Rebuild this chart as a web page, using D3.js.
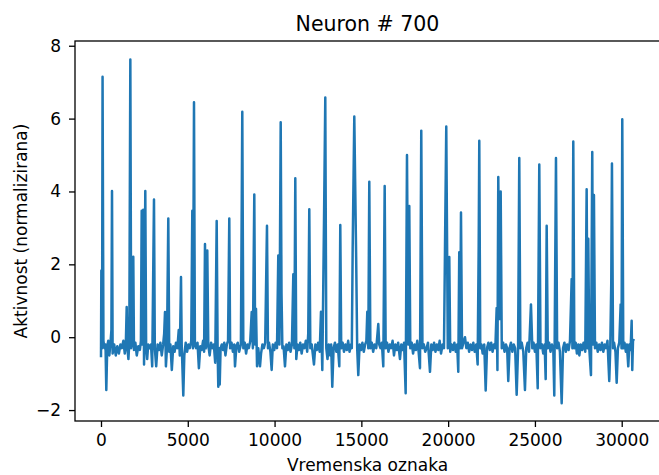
<!DOCTYPE html>
<html>
<head>
<meta charset="utf-8">
<script src="https://cdn.jsdelivr.net/npm/d3@7"></script>
<style>
  body { margin: 0; background: #fff; }
  text { font-family: "DejaVu Sans", sans-serif; fill: #000; }
</style>
</head>
<body>
<div id="root"></div>
<script>
const title = "Neuron # 700";
const xLabel = "Vremenska oznaka";
const yLabel = "Aktivnost (normalizirana)";

const xTicks = [0, 5000, 10000, 15000, 20000, 25000, 30000];
const yTicks = [-2, 0, 2, 4, 6, 8];

// [timestamp, activity]
const trace = [
  [0,-0.55],[20,1.83],[60,-0.3],[90,7.15],[140,-0.1],[200,-0.3],[260,-0.2],[305,-1.45],[360,-0.25],[420,-0.1],
  [480,-0.5],[540,-0.2],[600,0.2],[634,4.01],[670,-0.45],[760,-0.2],[850,-0.5],[940,-0.25],[1030,-0.45],[1120,-0.2],
  [1200,-0.3],[1290,-0.1],[1370,-0.45],[1430,-0.2],[1480,0.83],[1520,-0.3],[1580,-0.6],[1630,-0.15],[1690,7.62],[1740,-0.3],
  [1800,-0.1],[1860,2.21],[1900,-0.35],[1980,-0.15],[2060,-0.5],[2150,-0.25],[2240,-0.35],[2300,-0.1],[2345,3.47],[2380,-0.2],
  [2437,3.5],[2480,-0.75],[2552,4.01],[2600,-0.3],[2660,-0.6],[2720,-0.2],[2800,-0.3],[2880,-0.2],[2950,-0.8],[3053,3.78],
  [3100,-0.3],[3180,-0.8],[3260,-0.2],[3340,-0.35],[3420,-0.15],[3500,-0.5],[3580,-0.2],[3640,0.1],[3687,0.69],[3740,-0.8],
  [3800,-0.3],[3877,3.26],[3930,-0.4],[4000,-0.2],[4080,-0.9],[4160,-0.25],[4240,-0.4],[4320,-0.15],[4400,-0.3],[4480,0.2],
  [4540,-0.5],[4609,1.65],[4650,-0.2],[4741,-1.6],[4800,-0.5],[4880,-0.15],[4960,-0.4],[5040,-0.2],[5120,-0.3],[5200,-0.1],
  [5260,3.47],[5300,-0.3],[5358,6.45],[5410,-0.2],[5480,-0.3],[5560,-0.15],[5640,-0.85],[5720,-0.25],[5800,-0.35],[5880,-0.1],
  [5940,-0.4],[5991,2.56],[6050,-0.3],[6124,2.38],[6180,-0.2],[6260,-0.5],[6340,-0.15],[6420,-0.3],[6500,-0.2],[6580,-0.7],
  [6665,3.19],[6720,-0.4],[6758,-1.36],[6800,-0.3],[6840,-1.3],[6890,-0.3],[6960,-0.2],[7030,-0.35],[7100,-0.15],[7170,-0.5],
  [7250,-0.2],[7320,-0.1],[7391,3.26],[7440,-0.3],[7520,-0.15],[7600,-0.4],[7680,-0.2],[7720,-0.8],[7800,-0.25],[7880,-0.15],
  [7960,-0.4],[8060,-0.2],[8140,6.19],[8200,-0.3],[8280,-0.15],[8360,-0.45],[8440,-0.2],[8520,-0.3],[8600,-0.1],[8682,0.69],
  [8750,-0.3],[8832,3.92],[8880,-0.2],[8930,0.78],[8990,-0.8],[9060,-0.3],[9160,-0.8],[9220,-0.45],[9300,-0.2],[9380,-0.3],
  [9460,-0.15],[9563,3.06],[9620,-0.3],[9680,-0.15],[9760,-0.4],[9832,-0.9],[9900,-0.2],[9980,-0.35],[10060,-0.15],[10140,-0.3],
  [10214,2.24],[10280,-0.2],[10353,5.9],[10400,1.2],[10450,-0.3],[10520,-0.25],[10600,-0.8],[10680,-0.2],[10760,-0.35],[10840,-0.15],
  [10920,-0.4],[11000,-0.2],[11080,1.73],[11140,-0.3],[11194,4.36],[11250,-0.6],[11320,-0.2],[11400,-0.35],[11480,-0.15],[11560,-0.45],
  [11640,-0.2],[11720,-0.3],[11800,-0.1],[11880,-0.4],[11940,0.1],[12000,3.51],[12060,-0.3],[12140,-0.2],[12271,-0.75],[12350,-0.2],
  [12430,-0.35],[12510,-0.15],[12600,-0.4],[12674,0.7],[12750,-0.9],[12850,3.26],[12922,6.58],[12980,-0.3],[13050,-0.6],[13120,-0.2],
  [13200,-0.5],[13260,-0.2],[13325,-1.36],[13400,-0.3],[13480,-0.15],[13560,-0.4],[13640,-0.2],[13730,-0.8],[13786,3.08],[13840,-0.3],
  [13920,-0.15],[14000,-0.4],[14080,-0.2],[14160,-0.35],[14240,-0.1],[14320,-0.4],[14400,-0.2],[14450,-0.3],[14500,2.43],[14593,6.06],
  [14700,2.2],[14760,-0.3],[14823,-1.04],[14900,-0.2],[14980,-0.35],[15060,-0.15],[15140,-0.4],[15220,-0.2],[15290,-0.1],[15342,0.7],
  [15400,-0.3],[15457,4.27],[15520,-0.3],[15600,-0.15],[15680,-0.4],[15760,-0.2],[15860,-0.3],[15930,0.1],[15975,0.36],[16030,-0.2],
  [16100,-0.3],[16180,-0.15],[16264,-0.8],[16344,4.15],[16400,-0.3],[16480,-0.15],[16560,-0.4],[16640,-0.2],[16720,-0.3],[16800,-0.1],
  [16880,-0.5],[16960,-0.2],[17040,-0.35],[17120,-0.15],[17225,-0.6],[17300,-0.2],[17380,-0.35],[17460,-0.15],[17553,-1.54],[17629,5.0],
  [17700,-0.2],[17761,3.6],[17820,-0.3],[17900,-0.15],[17980,-0.45],[18060,-0.2],[18140,-0.35],[18220,-0.1],[18300,-0.4],[18378,-0.85],
  [18452,5.67],[18520,-0.3],[18600,-0.2],[18680,-0.4],[18760,-0.3],[18840,-0.15],[18954,-0.95],[19030,-0.2],[19110,-0.35],[19190,-0.15],
  [19270,-0.4],[19350,-0.2],[19430,-0.35],[19510,-0.1],[19590,-0.45],[19680,-0.2],[19760,-0.3],[19818,2.4],[19892,5.78],[19980,-0.3],
  [20066,2.2],[20120,-0.4],[20200,-0.2],[20280,-0.35],[20360,-0.15],[20440,-0.4],[20520,-0.2],[20584,-0.95],[20640,2.33],[20690,-0.3],
  [20740,3.42],[20800,-0.3],[20880,-0.15],[20970,0.0],[21050,-0.3],[21130,-0.15],[21210,-0.4],[21290,-0.2],[21370,-0.35],[21450,-0.15],
  [21530,-0.4],[21620,-0.2],[21700,-0.75],[21760,2.5],[21794,5.39],[21850,-0.3],[21920,-0.2],[21990,-0.45],[22080,-0.2],[22163,-1.46],
  [22240,-0.3],[22320,-0.15],[22400,-0.35],[22480,-0.15],[22560,-0.4],[22640,-0.2],[22720,-0.3],[22796,0.8],[22840,-0.9],[22889,4.4],
  [22960,0.5],[23027,4.0],[23090,-0.3],[23170,-0.15],[23250,-0.4],[23330,-0.2],[23400,-0.3],[23464,-1.2],[23540,-0.3],[23620,-0.15],
  [23700,-0.4],[23780,-0.2],[23860,-0.3],[23948,-1.58],[24030,-0.3],[24098,4.92],[24160,-0.3],[24240,-0.15],[24330,-0.4],[24426,-1.45],
  [24500,-0.3],[24580,-0.15],[24660,-0.4],[24772,0.9],[24850,-0.3],[24920,-0.15],[25000,-0.4],[25080,-0.2],[25160,-1.4],[25251,4.74],
  [25320,-0.3],[25400,-0.2],[25480,-0.45],[25560,-0.2],[25620,-1.15],[25677,3.06],[25740,-0.3],[25820,-0.15],[25900,-0.4],[25980,-0.2],
  [26060,-0.35],[26115,-1.6],[26213,4.92],[26280,-0.3],[26360,-0.15],[26440,-0.4],[26541,-1.81],[26620,-0.3],[26700,-0.15],[26780,-0.4],
  [26860,-0.2],[26940,-0.35],[27020,-0.1],[27117,1.6],[27160,-0.3],[27210,5.37],[27270,-0.3],[27350,-0.15],[27420,-0.45],[27500,-0.2],
  [27560,-0.5],[27640,-0.2],[27720,-0.35],[27800,-0.15],[27900,-0.4],[27980,4.06],[28030,-0.3],[28074,2.7],[28130,-0.3],[28229,-1.04],
  [28303,5.08],[28350,-0.2],[28400,3.9],[28460,-0.3],[28540,-0.15],[28620,-0.4],[28700,-0.2],[28780,-0.35],[28860,-0.15],[28940,-0.4],
  [29020,-0.2],[29100,-0.3],[29180,-0.1],[29283,-1.2],[29340,-0.3],[29398,1.5],[29438,4.77],[29500,-0.3],[29560,-0.15],[29640,-0.4],
  [29710,-1.25],[29780,-0.3],[29860,-0.15],[29940,0.9],[29990,-0.3],[30032,5.98],[30090,-0.3],[30160,-0.15],[30240,-0.4],[30300,-0.2],
  [30378,-0.8],[30440,-0.2],[30510,-0.35],[30573,0.45],[30608,-0.9],[30650,-0.1],[30707,-0.05]
];

const outerWidth = 659;
const outerHeight = 475;

// plot box; right spine sits just past the picture edge
const plot = { left: 75, right: 660, top: 41, bottom: 421 };

const x = d3.scaleLinear().domain([-1498, 32206]).range([plot.left, plot.right]);
const y = d3.scaleLinear().domain([-2.30, 8.13]).range([plot.bottom, plot.top]);

const svg = d3.select("#root")
  .append("svg")
  .attr("width", outerWidth)
  .attr("height", outerHeight)
  .style("display", "block");

svg.append("rect")
  .attr("width", outerWidth)
  .attr("height", outerHeight)
  .attr("fill", "#fff");

const line = d3.line()
  .x(d => x(d[0]))
  .y(d => y(d[1]));

svg.append("path")
  .datum(trace)
  .attr("fill", "none")
  .attr("stroke", "#1f77b4")
  .attr("stroke-width", 2.5)
  .attr("stroke-linejoin", "round")
  .attr("d", line);

const minus = d => (d < 0 ? "\u2212" + Math.abs(d) : String(d));

const xAxis = svg.append("g")
  .attr("transform", `translate(0,${plot.bottom})`)
  .call(d3.axisBottom(x).tickValues(xTicks).tickFormat(d3.format("d"))
    .tickSize(6).tickSizeOuter(0).tickPadding(7));

const yAxis = svg.append("g")
  .attr("transform", `translate(${plot.left},0)`)
  .call(d3.axisLeft(y).tickValues(yTicks).tickFormat(minus)
    .tickSize(6).tickSizeOuter(0).tickPadding(8));

[xAxis, yAxis].forEach(g => {
  g.select(".domain").remove();
  g.selectAll(".tick line").attr("stroke", "#000").attr("stroke-width", 1.3);
  g.selectAll(".tick text")
    .style("font-family", "'DejaVu Sans', sans-serif")
    .style("font-size", "17px")
    .attr("fill", "#000");
});

// frame
svg.append("rect")
  .attr("x", plot.left)
  .attr("y", plot.top)
  .attr("width", plot.right - plot.left)
  .attr("height", plot.bottom - plot.top)
  .attr("fill", "none")
  .attr("stroke", "#000")
  .attr("stroke-width", 1.3);

const midX = (plot.left + plot.right) / 2;

svg.append("text")
  .attr("x", midX)
  .attr("y", 31)
  .attr("text-anchor", "middle")
  .style("font-size", "20.5px")
  .text(title);

svg.append("text")
  .attr("x", midX)
  .attr("y", 471)
  .attr("text-anchor", "middle")
  .style("font-size", "17px")
  .text(xLabel);

svg.append("text")
  .attr("transform", `translate(27,${(plot.top + plot.bottom) / 2}) rotate(-90)`)
  .attr("text-anchor", "middle")
  .style("font-size", "17px")
  .text(yLabel);
</script>
</body>
</html>
